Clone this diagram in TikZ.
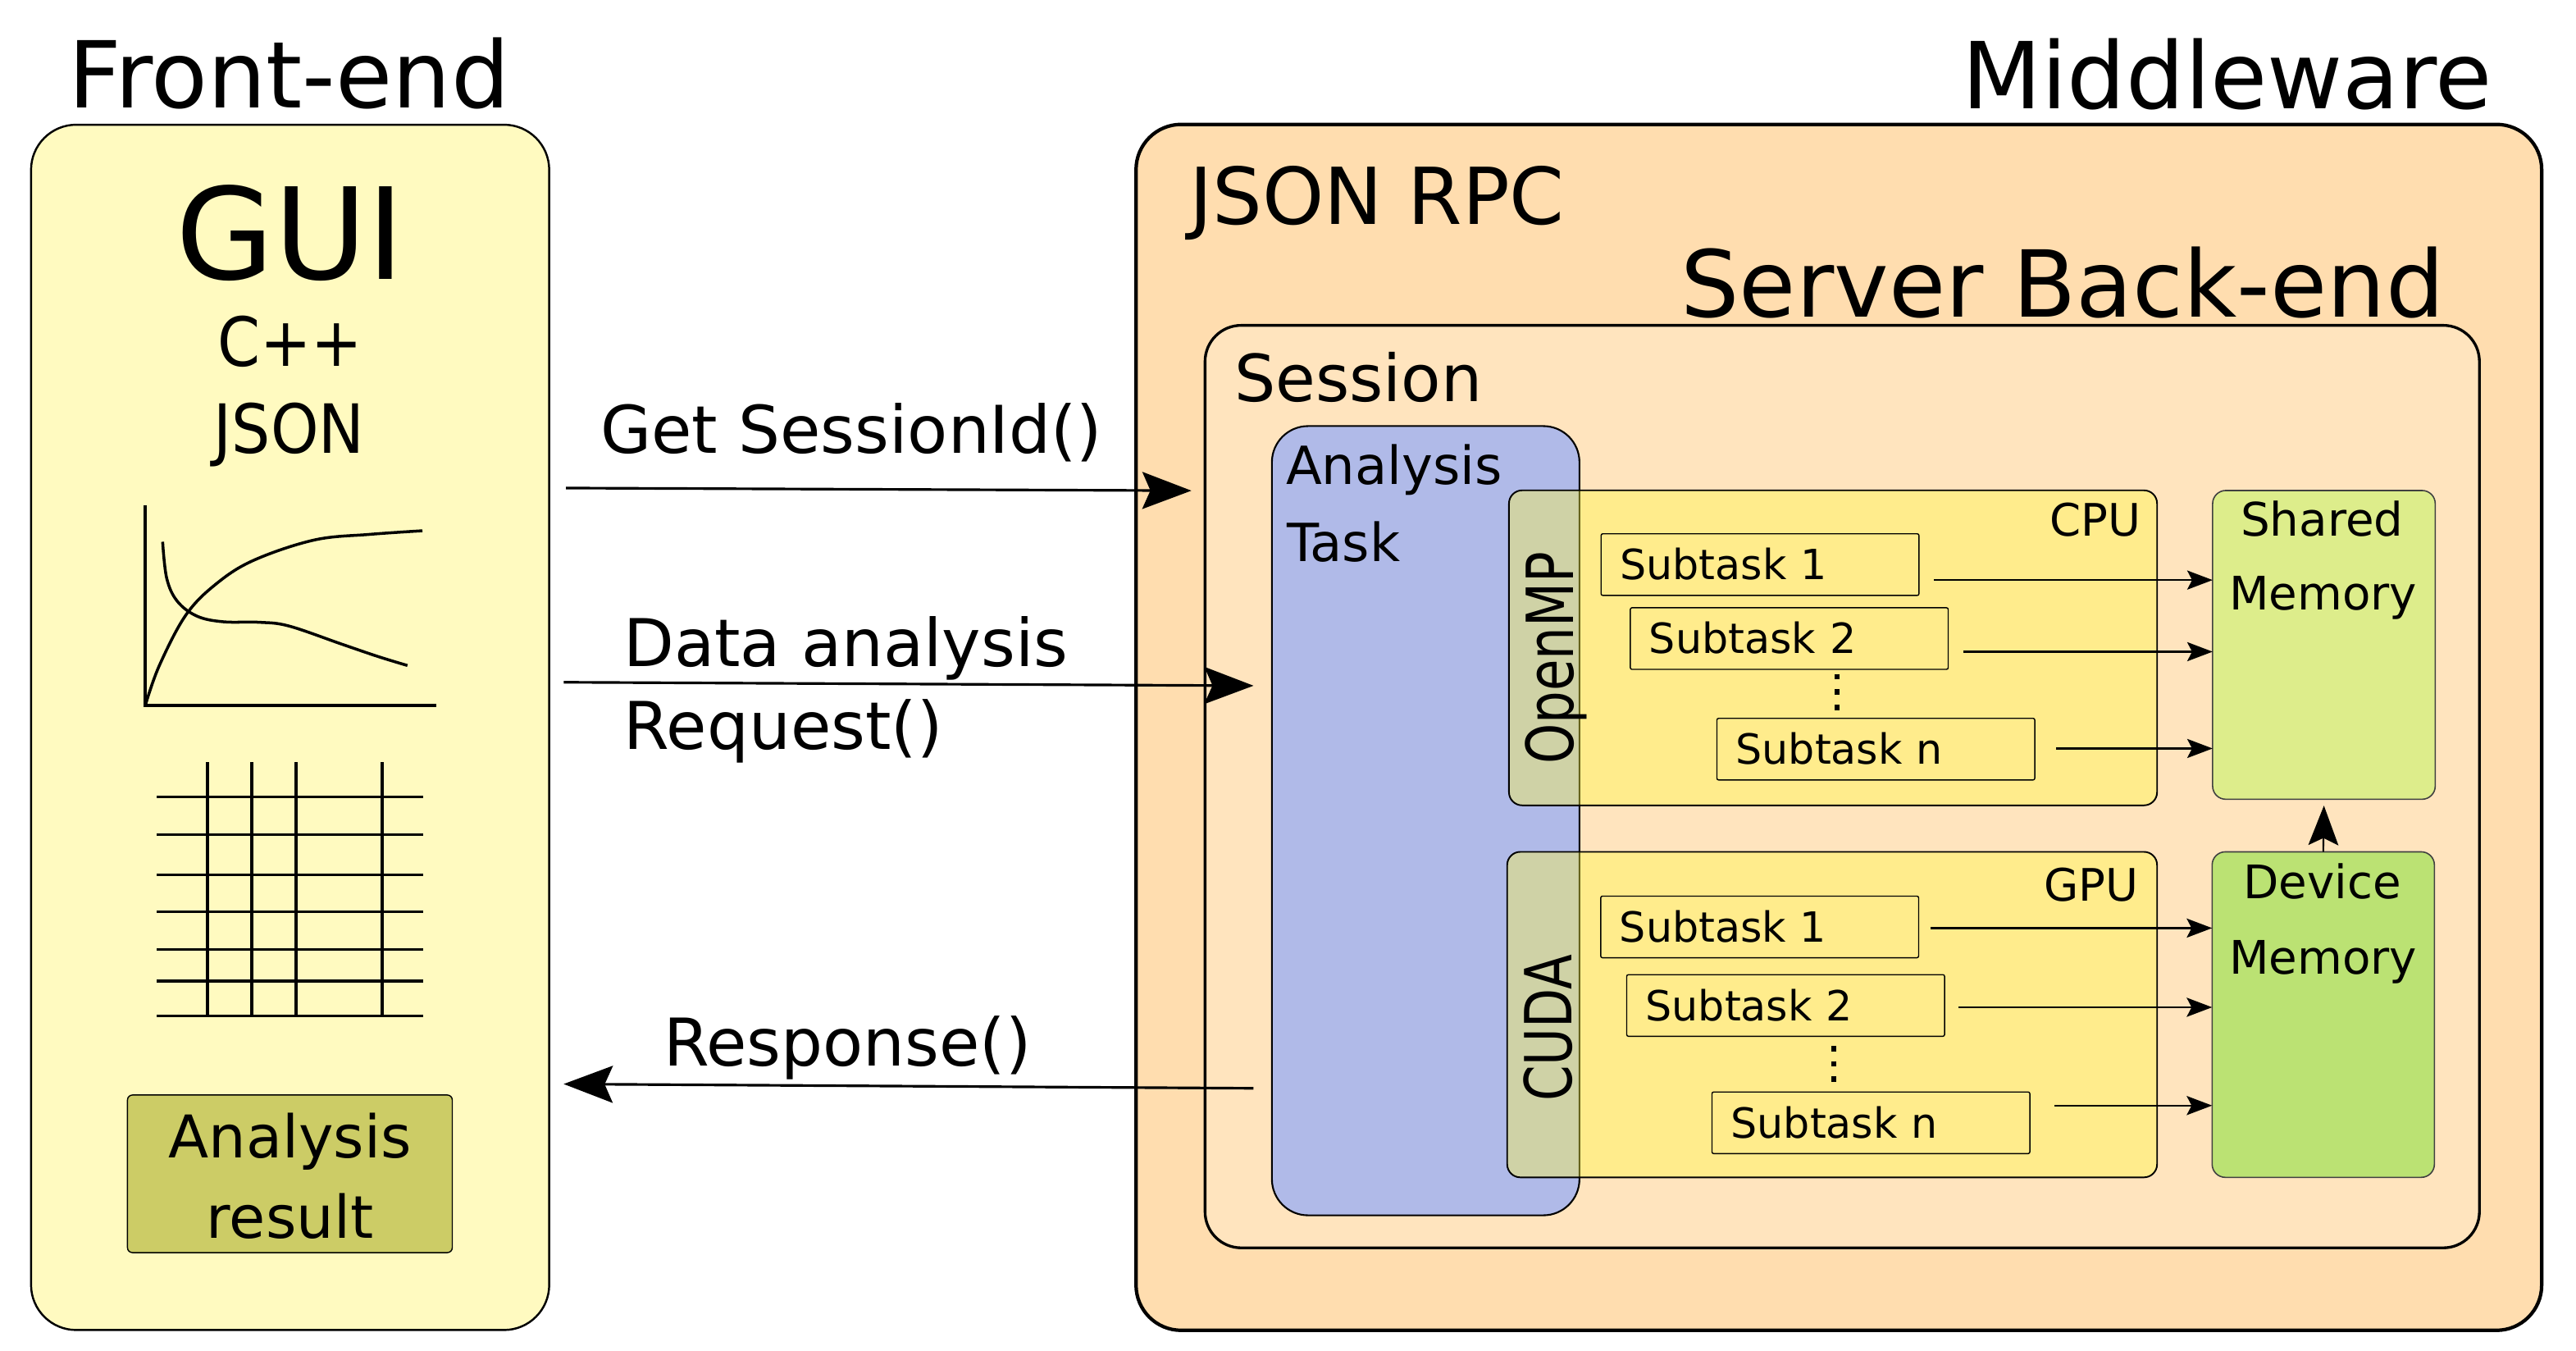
\documentclass[tikz,border=0pt]{standalone}
\usepackage{fontspec}
\setmainfont{DejaVu Sans}
\newfontfamily\tallsans[FakeStretch=0.9]{DejaVu Sans}
\newfontfamily\sidesans[FakeStretch=0.79]{DejaVu Sans}
\usetikzlibrary{arrows.meta,fit}

\definecolor{feFill}{RGB}{255,250,192}
\definecolor{resFill}{RGB}{204,204,102}
\definecolor{mwFill}{RGB}{255,221,175}
\definecolor{sesFill}{RGB}{255,228,190}
\definecolor{taskFill}{RGB}{176,186,232}
\definecolor{unitFill}{RGB}{255,248,67}
\definecolor{shmFill}{RGB}{221,237,139}
\definecolor{devFill}{RGB}{187,226,115}

\newcommand{\fs}[1]{\fontsize{#1}{1.2\dimexpr#1pt\relax}\selectfont}

\begin{document}
\begin{tikzpicture}[
  x=0.2mm, y=-0.2mm,
  panel/.style={draw, inner sep=0pt, outer sep=0pt},
  lbl/.style={inner sep=0pt, outer sep=0pt},
  subtask/.style={draw, line width=0.4pt, rounded corners=0.6pt, anchor=north west,
    inner xsep=2.3mm, inner ysep=0pt, text width=34.1mm, align=left,
    minimum height=7.5mm, text height=10.4pt, text depth=0pt, font=\fs{14.4}},
  bigarrow/.style={line width=0.9pt, -{Stealth[length=17pt,width=12.8pt,inset=2.8pt]}},
  smallarrow/.style={line width=0.65pt, -{Stealth[length=8.8pt,width=6.6pt,inset=1.7pt]}},
  uparrow/.style={line width=0.6pt, -{Stealth[length=13.7pt,width=10.4pt,inset=2.5pt]}},
  vdots/.style={line width=1.7pt, dash pattern=on 1.9pt off 3.4pt},
  chart/.style={line width=1pt},
]
\useasboundingbox (0,0) rectangle (1568,821.7);
\fill[white] (0,0) rectangle (1568,821.7);

% ---------------- Front-end column ----------------
\node[panel, fill=feFill, line width=0.7pt, rounded corners=5.5mm,
      fit={(18.9,75.9) (334.3,809.4)}] (fe) {};
\node[lbl, font=\fs{32}, anchor=base] (tfe) at (176,65.5) {Front-end};
\node[lbl, font=\fs{44}, anchor=base] (tgui) at (176.5,170.2) {GUI};
\node[lbl, font=\tallsans\fs{23.5}, anchor=base] (tcpp) at (176.5,223) {C++};
\node[lbl, font=\tallsans\fs{23.5}, anchor=base] (tjson) at (176,276) {JSON};

% chart: axes and two curves
\draw[line width=1.05pt] (88.2,307.4) -- (88.2,429.3) -- (265.4,429.3);
\draw[chart] plot[smooth, tension=0.6] coordinates
  {(88.6,428.8) (97,405) (113.2,374.2) (132,355) (154.8,340.8) (191.4,328.6) (225,325.2) (257.1,323.0)};
\draw[chart] plot[smooth, tension=0.6] coordinates
  {(99,329.7) (101.5,352) (108,366) (120,375) (136,378.4) (158,378.7) (176,381) (208,392) (230,399.5) (248,405)};

% table grid
\foreach \yy in {485.0,508.0,532.5,554.8,577.7,597.1,618.3}
  \draw[line width=1pt] (95.4,\yy) -- (257.4,\yy);
\foreach \xx in {126.5,153.3,180.2,232.5}
  \draw[line width=1.15pt] (\xx,463.8) -- (\xx,618.3);

\node[panel, fill=resFill, line width=0.4pt, rounded corners=0.6mm,
      fit={(77.6,666.4) (275.3,762.3)}] (res) {};
\node[lbl, font=\fs{20.4}, anchor=base] (tres1) at (176.5,704.6) {Analysis};
\node[lbl, font=\fs{20.4}, anchor=base] (tres2) at (176.5,753.3) {result};

% ---------------- Middleware column ----------------
\node[panel, fill=mwFill, line width=1.2pt, rounded corners=5.5mm,
      fit={(691.5,75.7) (1547.1,809.6)}] (mw) {};
\node[lbl, font=\fs{32}, anchor=base east] (tmw) at (1517,66.2) {Middleware};
\node[lbl, font=\fs{27.2}, anchor=base west] (trpc) at (724,136.5) {JSON RPC};
\node[lbl, font=\fs{32}, anchor=base east] (tsrv) at (1488,193) {Server Back-end};

\node[panel, fill=sesFill, line width=0.95pt, rounded corners=4.4mm,
      fit={(733.5,198) (1509.2,759.4)}] (ses) {};
\node[lbl, font=\fs{22.5}, anchor=base west] (tses) at (751.5,244.6) {Session};

\node[panel, fill=taskFill, line width=0.6pt, rounded corners=4.4mm,
      fit={(774.2,259.3) (961.4,739.6)}] (task) {};
\node[lbl, font=\fs{18.2}, anchor=base west] (ttask1) at (782.8,294.6) {Analysis};
\node[lbl, font=\fs{18.2}, anchor=base west] (ttask2) at (783.3,341.5) {Task};

% compute units, translucent over the task box
\node[panel, fill=unitFill, fill opacity=0.4, line width=0.55pt, rounded corners=1.6mm,
      fit={(918.5,298.4) (1313,490.1)}] (cpu) {};
\node[panel, fill=unitFill, fill opacity=0.4, line width=0.55pt, rounded corners=1.6mm,
      fit={(917.4,518.4) (1313,716.5)}] (gpu) {};
\node[lbl, font=\fs{15.5}, anchor=base east] (tcpu) at (1303,326.2) {CPU};
\node[lbl, font=\fs{15.5}, anchor=base east] (tgpu) at (1301.5,548.6) {GPU};
\node[lbl, font=\sidesans\fs{22.5}, anchor=base, rotate=90] (tomp) at (957.5,400.5) {OpenMP};
\node[lbl, font=\sidesans\fs{22.5}, anchor=base, rotate=90] (tcuda) at (956.5,625.5) {CUDA};

% subtasks
\node[subtask] (c1) at (974.2,324.5) {Subtask 1};
\node[subtask] (c2) at (992,369.5) {Subtask 2};
\node[subtask] (cn) at (1044.7,436.8) {Subtask n};
\node[subtask] (g1) at (974,545) {Subtask 1};
\node[subtask] (g2) at (989.8,592.8) {Subtask 2};
\node[subtask] (gn) at (1041.7,664.2) {Subtask n};

\coordinate (cdA) at (1118.2,410.2);
\coordinate (cdB) at (1118.2,433.5);
\coordinate (gdA) at (1116.3,636.4);
\coordinate (gdB) at (1116.3,659.5);
\draw[vdots] (cdA) -- (cdB);
\draw[vdots] (gdA) -- (gdB);

% memories
\node[panel, fill=shmFill, draw=black!75, line width=0.45pt, rounded corners=1.6mm,
      fit={(1346.8,298.5) (1482.3,486.4)}] (shm) {};
\node[panel, fill=devFill, draw=black!75, line width=0.45pt, rounded corners=1.6mm,
      fit={(1346.5,518.4) (1481.8,716.5)}] (dev) {};
\node[lbl, font=\fs{16}, anchor=base] (tshm1) at (1413.4,326.4) {Shared};
\node[lbl, font=\fs{16}, anchor=base] (tshm2) at (1414,371) {Memory};
\node[lbl, font=\fs{16}, anchor=base] (tdev1) at (1413.5,547) {Device};
\node[lbl, font=\fs{16}, anchor=base] (tdev2) at (1414,593) {Memory};

% subtask results into memory
\coordinate (ca1) at (1177,353);
\coordinate (ca2) at (1195,396.6);
\coordinate (ca3) at (1251.5,455.5);
\coordinate (ga1) at (1175,564.8);
\coordinate (ga2) at (1192,613);
\coordinate (ga3) at (1250.6,672.8);
\draw[smallarrow] (ca1) -- (ca1 -| shm.west);
\draw[smallarrow] (ca2) -- (ca2 -| shm.west);
\draw[smallarrow] (ca3) -- (ca3 -| shm.west);
\draw[smallarrow] (ga1) -- (ga1 -| dev.west);
\draw[smallarrow] (ga2) -- (ga2 -| dev.west);
\draw[smallarrow] (ga3) -- (ga3 -| dev.west);
\draw[uparrow] (dev.north) -- ([yshift=-2.2pt]shm.south);

% ---------------- Calls between front-end and middleware ----------------
\coordinate (gsA) at (344.5,297);
\coordinate (gsB) at (725.2,298.6);
\coordinate (daA) at (343.1,415.2);
\coordinate (daB) at (763,417.3);
\coordinate (rsA) at (763,662.3);
\coordinate (rsB) at (343.1,659.7);
\draw[bigarrow] (gsA) -- (gsB);
\draw[bigarrow] (daA) -- (daB);
\draw[bigarrow] (rsA) -- (rsB);
\node[lbl, font=\fs{22.8}, anchor=base west] (tgs) at (365.5,275.7) {Get SessionId()};
\node[lbl, font=\fs{22.8}, anchor=base west] (tda1) at (379.5,405.8) {Data analysis};
\node[lbl, font=\fs{22.8}, anchor=base west] (tda2) at (379.7,456.2) {Request()};
\node[lbl, font=\fs{22.8}, anchor=base west] (trs) at (404,648.8) {Response()};
\end{tikzpicture}
\end{document}
